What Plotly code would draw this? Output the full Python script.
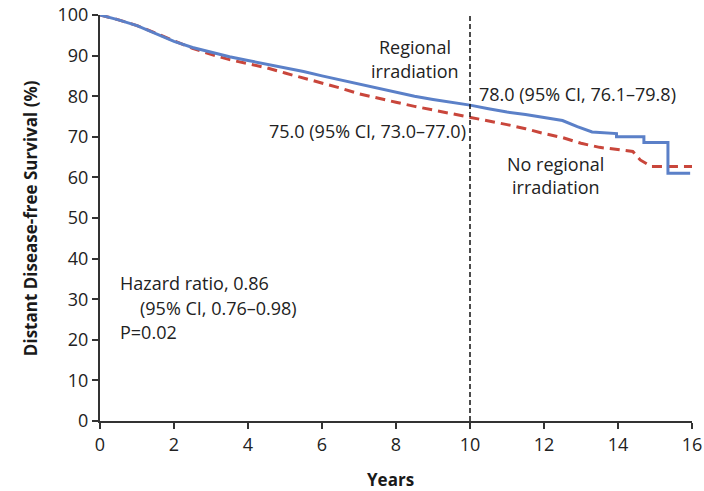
import plotly.graph_objects as go

# Regional irradiation (solid blue)
years_ri = [0, 0.5, 1.0, 1.5, 2.0, 2.5, 3.0, 3.5, 4.0, 4.5, 5.0, 5.5, 6.0, 6.5, 7.0, 7.5,
            8.0, 8.5, 9.0, 9.5, 10.0, 10.5, 11.0, 11.5, 12.0, 12.5, 12.9, 13.3, 13.96, 13.96,
            14.7, 14.7, 15.35, 15.35, 15.95]
surv_ri = [100, 98.8, 97.4, 95.5, 93.5, 92.0, 90.8, 89.7, 88.8, 87.9, 87.0, 86.1, 85.0, 84.0,
           83.0, 81.9, 81.0, 80.0, 79.2, 78.5, 77.8, 76.9, 76.1, 75.5, 74.8, 74.0, 72.5, 71.2,
           70.8, 70.0, 70.0, 68.6, 68.6, 61.0, 61.0]

# No regional irradiation (dashed red)
years_nri = [0, 0.5, 1.0, 1.5, 2.0, 2.5, 3.0, 3.5, 4.0, 4.5, 5.0, 5.5, 6.0, 6.5, 7.0, 7.5,
             8.0, 8.5, 9.0, 9.5, 10.0, 10.5, 11.0, 11.5, 12.0, 12.5, 13.0, 13.5, 14.0, 14.4,
             14.6, 14.9, 16.0]
surv_nri = [100, 98.8, 97.4, 95.5, 93.5, 91.8, 90.3, 89.0, 88.0, 87.0, 85.7, 84.5, 83.2, 82.0,
            80.6, 79.5, 78.5, 77.5, 76.6, 75.7, 74.9, 74.0, 73.0, 72.0, 70.8, 69.8, 68.4, 67.4,
            66.9, 66.4, 64.3, 62.7, 62.7]

x_ticks = [0, 2, 4, 6, 8, 10, 12, 14, 16]
y_ticks = [0, 10, 20, 30, 40, 50, 60, 70, 80, 90, 100]
landmark_year = 10

FONT = "Open Sans"
TXT = "#222222"

fig = go.Figure()
fig.add_trace(go.Scatter(x=years_nri, y=surv_nri, mode="lines",
                         line=dict(color="#c9463b", width=3, dash="10px,6px"),
                         name="No regional irradiation", showlegend=False))
fig.add_trace(go.Scatter(x=years_ri, y=surv_ri, mode="lines",
                         line=dict(color="#5b80c8", width=3),
                         name="Regional irradiation", showlegend=False))
fig.add_trace(go.Scatter(x=[landmark_year, landmark_year], y=[0, 100], mode="lines",
                         line=dict(color="#111111", width=1.5, dash="5px,3px"),
                         showlegend=False, hoverinfo="skip"))

axis_common = dict(showgrid=False, zeroline=False, showline=True, linecolor="#333333",
                   linewidth=2, ticks="outside", ticklen=6, tickwidth=2, tickcolor="#333333",
                   automargin=False,
                   tickfont=dict(family=FONT, size=18, color=TXT))

fig.update_layout(
    width=704, height=491,
    margin=dict(l=100, r=12, t=15, b=70),
    plot_bgcolor="white", paper_bgcolor="white",
    xaxis=dict(range=[0, 16], tickvals=x_ticks, **axis_common),
    yaxis=dict(range=[0, 100], tickvals=y_ticks, **axis_common),
    showlegend=False,
)

ann_font = dict(family=FONT, size=18, color=TXT)
annotations = [
    dict(x=8.51, y=92.1, text="Regional", xanchor="center", yanchor="middle", font=ann_font),
    dict(x=8.51, y=86.2, text="irradiation", xanchor="center", yanchor="middle", font=ann_font),
    dict(x=10.19, y=80.6, text="78.0 (95% CI, 76.1\u201379.8)", xanchor="left", yanchor="middle", font=ann_font),
    dict(x=9.95, y=71.5, text="75.0 (95% CI, 73.0\u201377.0)", xanchor="right", yanchor="middle", font=ann_font),
    dict(x=12.32, y=63.3, text="No regional", xanchor="center", yanchor="middle", font=ann_font),
    dict(x=12.32, y=57.7, text="irradiation", xanchor="center", yanchor="middle", font=ann_font),
    dict(x=0.49, y=34.1, text="Hazard ratio, 0.86", xanchor="left", yanchor="middle", font=ann_font),
    dict(x=1.03, y=27.9, text="(95% CI, 0.76\u20130.98)", xanchor="left", yanchor="middle", font=ann_font),
    dict(x=0.49, y=21.8, text="P=0.02", xanchor="left", yanchor="middle", font=ann_font),
    dict(xref="paper", yref="paper", x=-0.118, y=0.5, text="<b>Distant Disease-free Survival (%)</b>",
         textangle=-90, xanchor="center", yanchor="middle", showarrow=False,
         font=dict(family=FONT, size=17, color="#1a1a1a")),
    dict(xref="paper", yref="paper", x=0.49, y=-0.144, text="<b>Years</b>",
         xanchor="center", yanchor="middle", showarrow=False,
         font=dict(family=FONT, size=17, color="#1a1a1a")),
]
for a in annotations:
    a.setdefault("showarrow", False)
    fig.add_annotation(**a)

fig.write_html("out.html")
